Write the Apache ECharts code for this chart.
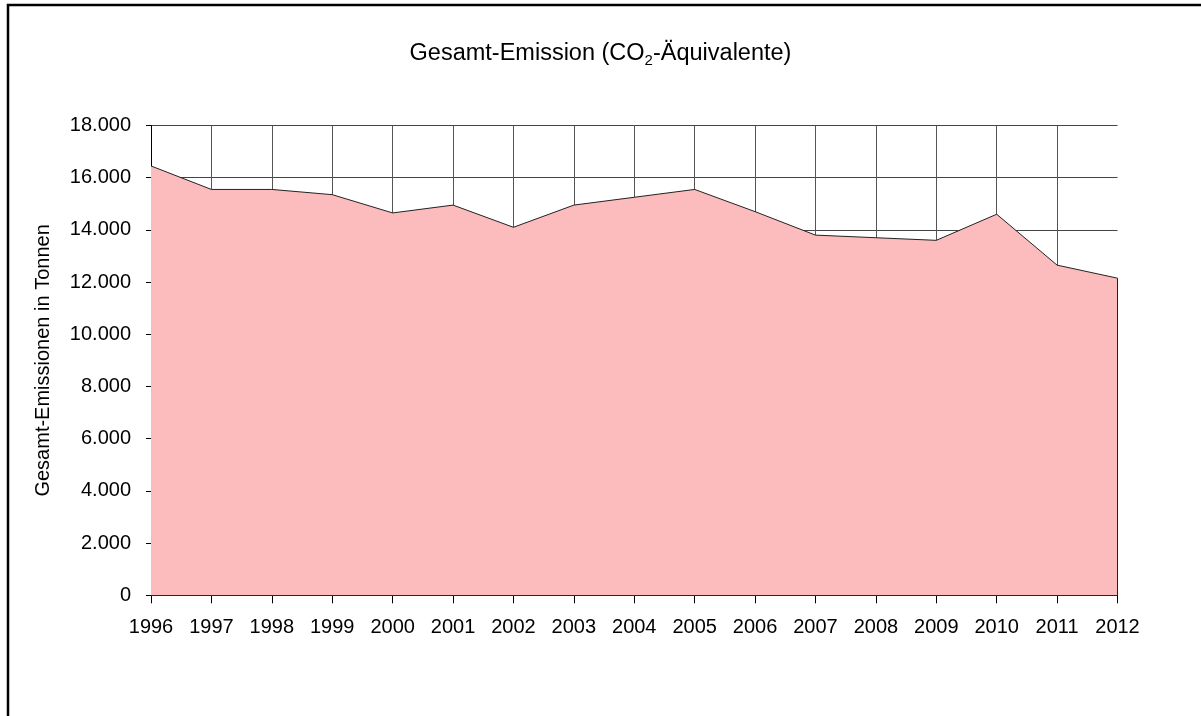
<!DOCTYPE html>
<html>
<head>
<meta charset="utf-8">
<script src="https://cdn.jsdelivr.net/npm/echarts@6/dist/echarts.min.js"></script>
<style>
  html, body { margin: 0; padding: 0; background: #fff; }
  #chart { width: 1201px; height: 716px; }
</style>
</head>
<body>
<div id="chart"></div>
<script>
// Gesamt-Emission in Tonnen
const years = ['1996', '1997', '1998', '1999', '2000', '2001', '2002', '2003', '2004',
  '2005', '2006', '2007', '2008', '2009', '2010', '2011', '2012']
const emissions = [16450, 15550, 15550, 15350, 14650, 14950, 14100, 14950, 15250,
  15550, 14700, 13800, 13700, 13600, 14600, 12650, 12150]
const yMax = 18000
const yStep = 2000

const font = 'Liberation Sans, Arial, sans-serif'

const chart = echarts.init(document.getElementById('chart'))

function fmtThousands(v) {
  return String(v).replace(/\B(?=(\d{3})+(?!\d))/g, '.')
}

chart.setOption({
  animation: false,
  backgroundColor: '#fff',
  textStyle: { fontFamily: font },
  title: {
    text: 'Gesamt-Emission (CO{sub|2}-Äquivalente)',
    left: 'center',
    top: 35,
    textStyle: {
      fontFamily: font,
      fontSize: 23.5,
      fontWeight: 'normal',
      color: '#000',
      rich: {
        sub: { fontSize: 15, fontFamily: font, color: '#000', verticalAlign: 'bottom', padding: [13, 0, 0, 0] }
      }
    }
  },
  graphic: [{
    type: 'polyline',
    shape: { points: [[8, 760], [8, 5], [1260, 5]] },
    style: { stroke: '#000', lineWidth: 2.5, fill: null },
    silent: true
  }],
  grid: { left: 151, right: 83.5, top: 125.5, bottom: 120.7 },
  xAxis: {
    type: 'category',
    data: years,
    boundaryGap: false,
    axisLine: { lineStyle: { color: '#000', width: 1 } },
    axisTick: { length: 8, lineStyle: { color: '#000' } },
    axisLabel: { color: '#000', fontSize: 20, fontFamily: font, margin: 22 },
    splitLine: {
      show: true,
      interval: function (index) { return index < years.length - 1 },
      lineStyle: { color: '#555', width: 1 }
    }
  },
  yAxis: {
    type: 'value',
    min: 0,
    max: yMax,
    interval: yStep,
    name: 'Gesamt-Emissionen in Tonnen',
    nameLocation: 'middle',
    nameGap: 98,
    nameTextStyle: { color: '#000', fontSize: 20, fontFamily: font },
    axisLine: { show: true, lineStyle: { color: '#000', width: 1 } },
    axisTick: { show: true, length: 5, lineStyle: { color: '#000' } },
    axisLabel: { color: '#000', fontSize: 20, fontFamily: font, margin: 20, formatter: fmtThousands },
    splitLine: { show: true, lineStyle: { color: '#444', width: 1 } }
  },
  series: [{
    type: 'line',
    data: emissions,
    symbol: 'none',
    lineStyle: { color: '#222', width: 1 },
    areaStyle: { color: '#FCBCBD', opacity: 1 },
    markLine: {
      silent: true,
      symbol: 'none',
      label: { show: false },
      lineStyle: { color: '#222', width: 1, type: 'solid' },
      data: [[
        { coord: [years[years.length - 1], 0] },
        { coord: [years[years.length - 1], emissions[emissions.length - 1]] }
      ]]
    }
  }]
})
</script>
</body>
</html>
